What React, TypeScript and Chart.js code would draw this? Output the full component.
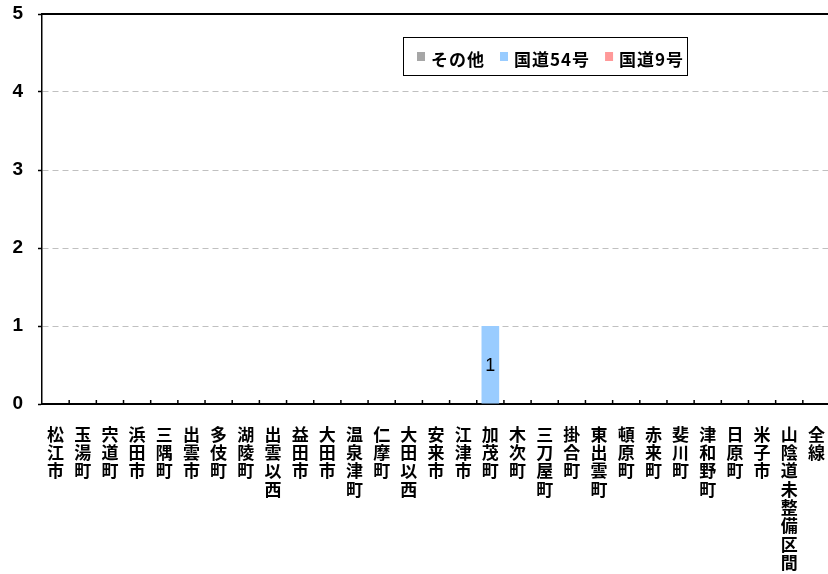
import React, { useEffect, useRef } from "react";
import { Chart, registerables } from "chart.js";

Chart.register(...registerables);

const categories: string[] = [
  "松江市", "玉湯町", "宍道町", "浜田市", "三隅町", "出雲市", "多伎町", "湖陵町", "出雲以西",
  "益田市", "大田市", "温泉津町", "仁摩町", "大田以西", "安来市", "江津市", "加茂町", "木次町",
  "三刀屋町", "掛合町", "東出雲町", "頓原町", "赤来町", "斐川町", "津和野町", "日原町", "米子市",
  "山陰道未整備区間", "全線",
];

const seriesNames: string[] = ["その他", "国道54号", "国道9号"];
const seriesColors: string[] = ["#a6a6a6", "#99ccff", "#ff9999"];

const sonota: number[] = [0, 0, 0, 0, 0, 0, 0, 0, 0, 0, 0, 0, 0, 0, 0, 0, 0, 0, 0, 0, 0, 0, 0, 0, 0, 0, 0, 0, 0];
const kokudo54: number[] = [0, 0, 0, 0, 0, 0, 0, 0, 0, 0, 0, 0, 0, 0, 0, 0, 1, 0, 0, 0, 0, 0, 0, 0, 0, 0, 0, 0, 0];
const kokudo9: number[] = [0, 0, 0, 0, 0, 0, 0, 0, 0, 0, 0, 0, 0, 0, 0, 0, 0, 0, 0, 0, 0, 0, 0, 0, 0, 0, 0, 0, 0];

const yMin = 0;
const yMax = 5;
const yStep = 1;

const CJK = "'Noto Sans CJK JP', sans-serif";
const LAT = "'Liberation Sans', Arial, sans-serif";

const decorPlugin = {
  id: "decor",
  afterDraw(chart: any) {
    const { ctx, chartArea, scales } = chart;
    const xs = scales.x;
    ctx.save();
    // top border
    ctx.strokeStyle = "#000";
    ctx.lineWidth = 2;
    ctx.beginPath();
    ctx.moveTo(chartArea.left - 1, chartArea.top);
    ctx.lineTo(chartArea.right, chartArea.top);
    ctx.stroke();
    // inner category ticks
    ctx.lineWidth = 1.5;
    for (let i = 1; i < categories.length; i++) {
      const x = (xs.getPixelForValue(i - 1) + xs.getPixelForValue(i)) / 2;
      ctx.beginPath();
      ctx.moveTo(x, chartArea.bottom);
      ctx.lineTo(x, chartArea.bottom - 4);
      ctx.stroke();
    }
    // value labels
    ctx.fillStyle = "#000";
    ctx.font = `18px ${LAT}`;
    ctx.textAlign = "center";
    ctx.textBaseline = "middle";
    chart.data.datasets.forEach((ds: any, di: number) => {
      const meta = chart.getDatasetMeta(di);
      meta.data.forEach((el: any, i: number) => {
        const v = ds.data[i];
        if (v > 0) {
          ctx.fillText(String(v), el.x, (el.y + el.base) / 2 + 1);
        }
      });
    });
    // legend box
    const lx = 403, ly = 37, lw = 284, lh = 38;
    ctx.fillStyle = "#fff";
    ctx.fillRect(lx, ly, lw, lh);
    ctx.strokeStyle = "#000";
    ctx.lineWidth = 1;
    ctx.strokeRect(lx + 0.5, ly + 0.5, lw, lh);
    ctx.font = `bold 17px ${CJK}`;
    (ctx as any).letterSpacing = "1px";
    ctx.textAlign = "left";
    ctx.textBaseline = "middle";
    let cx = lx + 14;
    chart.data.datasets.forEach((ds: any) => {
      ctx.fillStyle = ds.backgroundColor;
      ctx.fillRect(cx, ly + 15, 8, 9);
      ctx.fillStyle = "#000";
      ctx.fillText(ds.label, cx + 14, ly + 23);
      cx += 14 + ctx.measureText(ds.label).width + 15;
    });
    (ctx as any).letterSpacing = "0px";
    ctx.restore();
  },
};

export default function App() {
  const ref = useRef<HTMLCanvasElement | null>(null);
  useEffect(() => {
    if (!ref.current) return;
    const values = [sonota, kokudo54, kokudo9];
    const chart = new Chart(ref.current, {
      type: "bar",
      data: {
        labels: categories.map((c) => c.split("")),
        datasets: seriesNames.map((name, i) => ({
          label: name,
          data: values[i],
          backgroundColor: seriesColors[i],
          borderWidth: 0,
          barPercentage: 0.65,
          categoryPercentage: 1,
        })),
      },
      options: {
        responsive: false,
        animation: false,
        events: [],
        layout: { padding: { top: 14, right: 0, left: 0, bottom: 0 } },
        plugins: { legend: { display: false }, tooltip: { enabled: false } },
        scales: {
          x: {
            stacked: true,
            grid: { display: false },
            border: { display: true, color: "#000", width: 2 },
            ticks: {
              autoSkip: false,
              maxRotation: 0,
              minRotation: 0,
              padding: 13,
              color: "#000",
              font: { family: CJK, size: 17, weight: "bold", lineHeight: 1.08 },
            },
            afterFit: (s: any) => {
              s.height = 170;
              s.paddingLeft = 0;
              s.paddingRight = 0;
            },
          },
          y: {
            stacked: true,
            min: yMin,
            max: yMax,
            ticks: {
              stepSize: yStep,
              padding: 15,
              color: "#000",
              font: { family: LAT, size: 19, weight: "bold" },
            },
            grid: {
              color: (c: any) => (c.tick && (c.tick.value === 0 || c.tick.value === 5) ? "rgba(0,0,0,0)" : "#c0c0c0"),
              lineWidth: 1,
              drawTicks: true,
              tickLength: 4,
              tickColor: "#000",
              tickWidth: 1.5,
              tickBorderDash: [],
            },
            border: { display: true, color: "#000", width: 1.5, dash: [6, 4] },
            afterFit: (s: any) => {
              s.width = 42;
              s.paddingTop = 0;
              s.paddingBottom = 0;
            },
          },
        },
      },
      plugins: [decorPlugin],
    });
    return () => chart.destroy();
  }, []);
  return (
    <div style={{ position: "absolute", left: 0, top: 0, width: 828, height: 574, overflow: "hidden", background: "#fff" }}>
      <canvas ref={ref} width={830} height={574} style={{ display: "block" }} />
    </div>
  );
}
